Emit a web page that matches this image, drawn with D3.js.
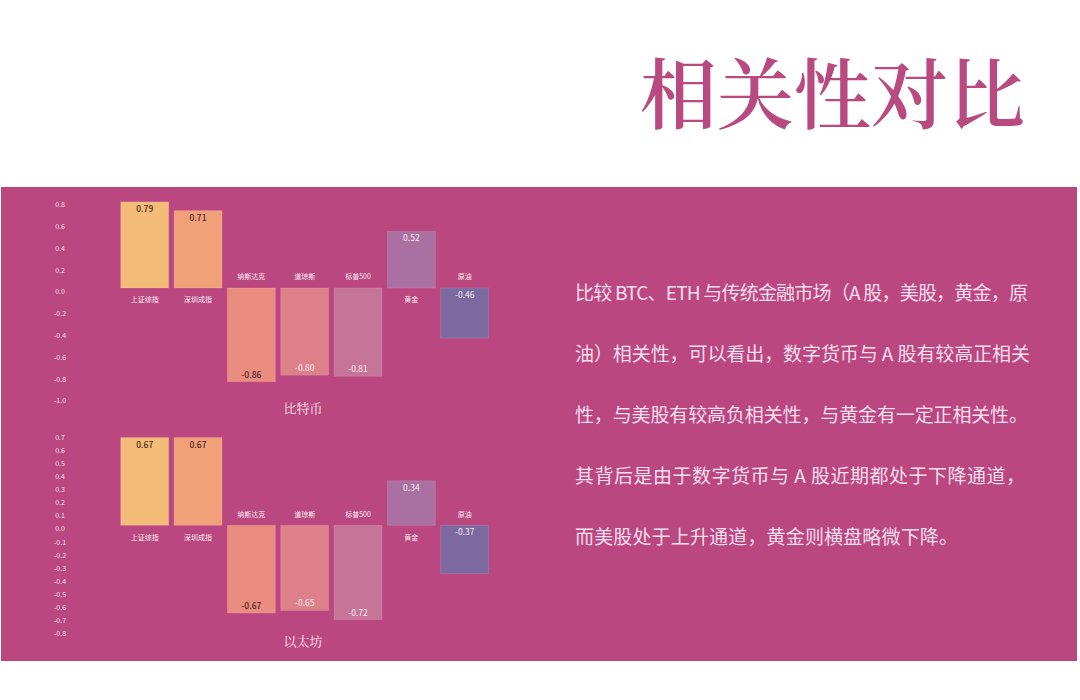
<!DOCTYPE html>
<html>
<head>
<meta charset="utf-8">
<script src="https://cdn.jsdelivr.net/npm/d3@7"></script>
<style>
  html, body { margin: 0; padding: 0; background: #ffffff; }
  svg { display: block; }
</style>
</head>
<body>
<svg id="chart" width="1080" height="700"></svg>
<script>
// ---- data ----
const categories = ["上证综指", "深圳成指", "纳斯达克", "道琼斯", "标普500", "黄金", "原油"];
const btcValues = [0.79, 0.71, -0.86, -0.80, -0.81, 0.52, -0.46];
const ethValues = [0.67, 0.67, -0.67, -0.65, -0.72, 0.34, -0.37];
const btcTicks = [0.8, 0.6, 0.4, 0.2, 0.0, -0.2, -0.4, -0.6, -0.8, -1.0];
const ethTicks = [0.7, 0.6, 0.5, 0.4, 0.3, 0.2, 0.1, 0.0, -0.1, -0.2, -0.3, -0.4, -0.5, -0.6, -0.7, -0.8];
const barColors = ["#f3bc78", "#f1a07a", "#ea8d80", "#dd8089", "#c77499", "#aa70a1", "#7c69a0"];
const darkLabelCats = ["上证综指", "深圳成指", "纳斯达克"];
const labelAtBaseCats = ["原油"];
const chartTitles = ["比特币", "以太坊"];
const titleText = "相关性对比";
const paragraphLines = [
  "比较 BTC、ETH 与传统金融市场（A 股，美股，黄金，原",
  "油）相关性，可以看出，数字货币与 A 股有较高正相关",
  "性，与美股有较高负相关性，与黄金有一定正相关性。",
  "其背后是由于数字货币与 A 股近期都处于下降通道，",
  "而美股处于上升通道，黄金则横盘略微下降。"
];

// ---- drawing ----
const svg = d3.select("#chart");
const FONT = "'Noto Sans CJK SC', 'Noto Sans', sans-serif";
const BG = "#ba4780";

svg.append("rect").attr("x", 0).attr("y", 0).attr("width", 1080).attr("height", 700).attr("fill", "#ffffff");
svg.append("rect").attr("x", 1).attr("y", 187).attr("width", 1076).attr("height", 474).attr("fill", BG);

svg.append("text")
  .attr("x", 640).attr("y", 123)
  .attr("font-family", "'Noto Serif CJK SC', 'Noto Sans CJK SC', serif")
  .attr("font-size", 77).attr("font-weight", 600)
  .attr("fill", "#b94a80")
  .text(titleText);

const x = d3.scaleBand().domain(categories).range([120.7, 488.7]).paddingInner(0.1).paddingOuter(0);

function drawChart(values, ticks, zeroY, pxPerUnit, tickOffset, caption, captionY) {
  const y = d3.scaleLinear().domain([0, 1]).range([zeroY, zeroY - pxPerUnit]);
  const g = svg.append("g");
  const data = categories.map((c, i) => ({ cat: c, v: values[i], color: barColors[i] }));

  // tick labels
  g.selectAll("text.tick").data(ticks).enter().append("text")
    .attr("class", "tick")
    .attr("x", 60).attr("y", d => y(d) + tickOffset)
    .attr("dy", "0.35em")
    .attr("text-anchor", "middle")
    .attr("font-family", FONT).attr("font-size", 7)
    .attr("fill", "#ffffff").attr("fill-opacity", 0.85)
    .text(d => d3.format(".1f")(d).replace("−", "-"));

  // bars
  g.selectAll("rect.bar").data(data).enter().append("rect")
    .attr("class", "bar")
    .attr("x", d => x(d.cat))
    .attr("width", x.bandwidth())
    .attr("y", d => Math.min(y(d.v), y(0)))
    .attr("height", d => Math.abs(y(d.v) - y(0)))
    .attr("fill", d => d.color)
    .attr("stroke", "#ffffff").attr("stroke-opacity", 0.12).attr("stroke-width", 1);

  // category labels
  g.selectAll("text.cat").data(data).enter().append("text")
    .attr("class", "cat")
    .attr("x", d => x(d.cat) + x.bandwidth() / 2)
    .attr("y", d => d.v >= 0 ? y(0) + 12 : y(0) - 11)
    .attr("dy", "0.35em")
    .attr("text-anchor", "middle")
    .attr("font-family", FONT).attr("font-size", 7)
    .attr("fill", "#ffffff").attr("fill-opacity", 0.92)
    .text(d => d.cat);

  // value labels
  g.selectAll("text.val").data(data).enter().append("text")
    .attr("class", "val")
    .attr("x", d => x(d.cat) + x.bandwidth() / 2)
    .attr("y", d => {
      if (labelAtBaseCats.includes(d.cat)) return y(0) + 7;
      return d.v >= 0 ? y(d.v) + 7 : y(d.v) - 7;
    })
    .attr("dy", "0.35em")
    .attr("text-anchor", "middle")
    .attr("font-family", FONT).attr("font-size", 8.5)
    .attr("font-weight", d => darkLabelCats.includes(d.cat) ? 500 : 400)
    .attr("fill", d => darkLabelCats.includes(d.cat) ? "#4e2a1c" : "#f8e8f0")
    .text(d => d3.format(".2f")(d.v).replace("−", "-"));

  g.append("text")
    .attr("x", 303).attr("y", captionY)
    .attr("dy", "0.35em")
    .attr("text-anchor", "middle")
    .attr("font-family", "'Noto Serif CJK SC', 'Noto Sans CJK SC', serif")
    .attr("font-size", 13)
    .attr("fill", "#fbe3ef")
    .text(caption);
}

drawChart(btcValues, btcTicks, 288, 109, 4, chartTitles[0], 408);
drawChart(ethValues, ethTicks, 525.3, 131, 3.7, chartTitles[1], 641);

// paragraph (each line justified to the width seen in the layout)
const lineWidths = [453, 455, 453, 450, 383];
const para = svg.append("g");
para.selectAll("text").data(paragraphLines).enter().append("text")
  .attr("x", 575)
  .attr("y", (d, i) => 300 + i * 61)
  .attr("font-family", FONT).attr("font-size", 19)
  .attr("fill", "#f9dfec")
  .attr("textLength", (d, i) => lineWidths[i])
  .attr("lengthAdjust", "spacing")
  .text(d => d);
</script>
</body>
</html>
